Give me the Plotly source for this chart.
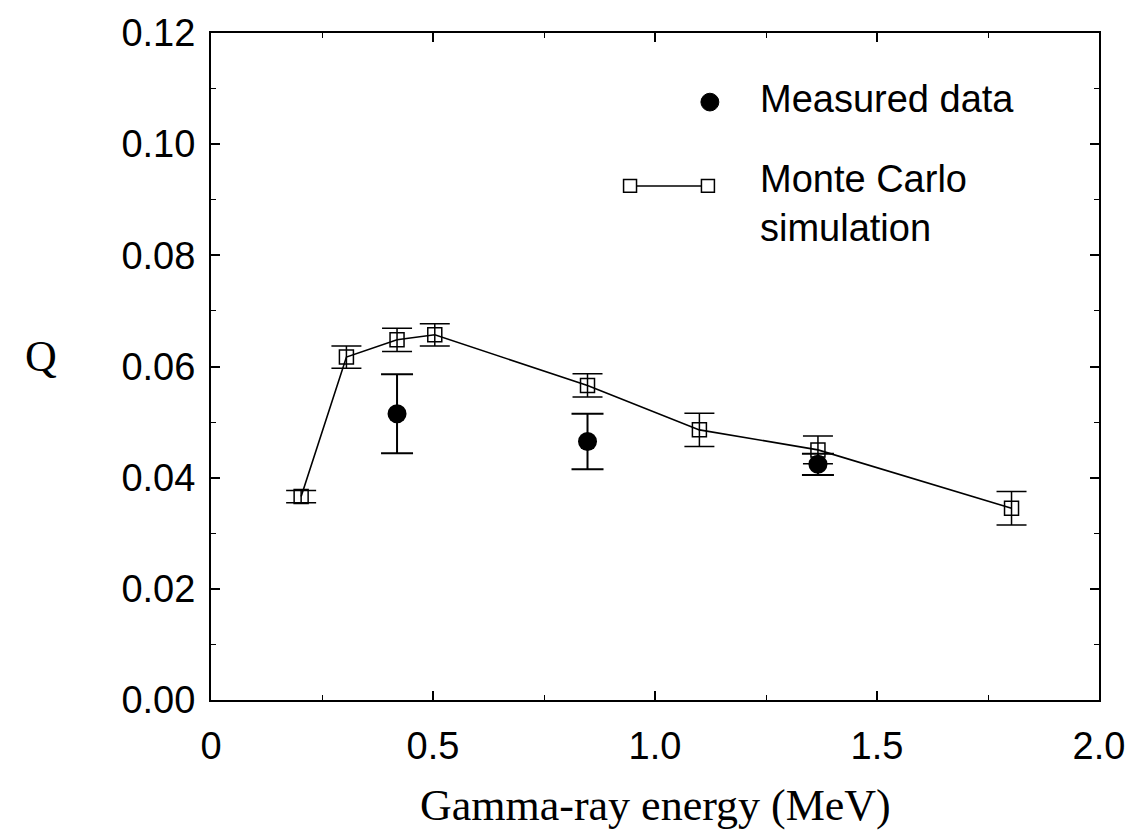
import plotly.graph_objects as go

# Monte Carlo simulation: energy (MeV), Q, symmetric error
mc_energy = [0.203, 0.305, 0.419, 0.504, 0.848, 1.100, 1.367, 1.803]
mc_q = [0.0366, 0.0617, 0.0648, 0.0657, 0.0566, 0.0486, 0.0450, 0.0345]
mc_err = [0.0011, 0.0020, 0.0021, 0.0020, 0.0021, 0.0030, 0.0025, 0.0030]

# Measured data: energy (MeV), Q, symmetric error
meas_energy = [0.419, 0.848, 1.367]
meas_q = [0.0515, 0.0465, 0.0424]
meas_err = [0.0071, 0.0050, 0.0019]

x_ticks = [0, 0.5, 1.0, 1.5, 2.0]
x_tick_labels = ["0", "0.5", "1.0", "1.5", "2.0"]
y_ticks = [0.00, 0.02, 0.04, 0.06, 0.08, 0.10, 0.12]
y_tick_labels = ["0.00", "0.02", "0.04", "0.06", "0.08", "0.10", "0.12"]

tick_font = dict(family="Liberation Sans, Arial, sans-serif", size=38, color="black")
legend_font = dict(family="Liberation Sans, Arial, sans-serif", size=38, color="black")
serif_font = dict(family="Liberation Serif, Times New Roman, serif", size=44, color="black")

fig = go.Figure()

fig.add_trace(go.Scatter(
    x=mc_energy, y=mc_q, mode="lines+markers",
    line=dict(color="black", width=1.6),
    marker=dict(symbol="square-open", size=14, color="black", line=dict(width=1.5)),
    error_y=dict(type="data", array=mc_err, visible=True, color="black", thickness=1.5, width=15),
    showlegend=False,
))

fig.add_trace(go.Scatter(
    x=meas_energy, y=meas_q, mode="markers",
    marker=dict(symbol="circle", size=19, color="black"),
    error_y=dict(type="data", array=meas_err, visible=True, color="black", thickness=2, width=16),
    showlegend=False,
))

axis_common = dict(
    showline=True, linecolor="black", linewidth=2, mirror="ticks",
    ticks="inside", tickcolor="black", tickwidth=1.5, ticklen=9,
    showgrid=False, zeroline=False, tickfont=tick_font,
)

fig.update_xaxes(
    range=[0, 2.0], tickmode="array", tickvals=x_ticks, ticktext=x_tick_labels,
    minor=dict(dtick=0.25, ticks="inside", ticklen=5, tickcolor="black", tickwidth=1.2),
    ticklabelstandoff=11, **axis_common,
)
fig.update_yaxes(
    range=[0, 0.12], tickmode="array", tickvals=y_ticks, ticktext=y_tick_labels,
    minor=dict(dtick=0.01, ticks="inside", ticklen=5, tickcolor="black", tickwidth=1.2),
    ticklabelstandoff=6, **axis_common,
)

# Legend keys drawn in paper coordinates
shapes = [
    dict(type="circle", xref="paper", yref="paper",
         x0=0.5517, x1=0.5719, y0=0.8831, y1=0.9097,
         fillcolor="black", line=dict(color="black", width=1)),
    dict(type="line", xref="paper", yref="paper",
         x0=0.4719, x1=0.5596, y0=0.7707, y1=0.7707,
         line=dict(color="black", width=1.6)),
    dict(type="rect", xref="paper", yref="paper",
         x0=0.4646, x1=0.4792, y0=0.7611, y1=0.7803,
         fillcolor="white", line=dict(color="black", width=1.5)),
    dict(type="rect", xref="paper", yref="paper",
         x0=0.5523, x1=0.5669, y0=0.7611, y1=0.7803,
         fillcolor="white", line=dict(color="black", width=1.5)),
]

annotations = [
    dict(text="Measured data", xref="paper", yref="paper", x=0.6157, y=0.892,
         xanchor="left", yanchor="middle", yshift=6, showarrow=False, font=legend_font),
    dict(text="Monte Carlo<br>simulation", xref="paper", yref="paper", x=0.6157, y=0.7707,
         xanchor="left", yanchor="top", yshift=30, showarrow=False, font=legend_font,
         align="left"),
    dict(text="Q", xref="paper", yref="paper", x=-0.192, y=0.515,
         xanchor="center", yanchor="middle", showarrow=False, font=serif_font),
    dict(text="Gamma-ray energy (MeV)", xref="paper", yref="paper", x=0.5, y=-0.158,
         xanchor="center", yanchor="middle", showarrow=False, font=serif_font),
]

fig.update_layout(
    width=1137, height=839,
    margin=dict(l=211, r=36, t=24, b=139),
    plot_bgcolor="white", paper_bgcolor="white",
    shapes=shapes, annotations=annotations,
)

fig.write_html("out.html")
